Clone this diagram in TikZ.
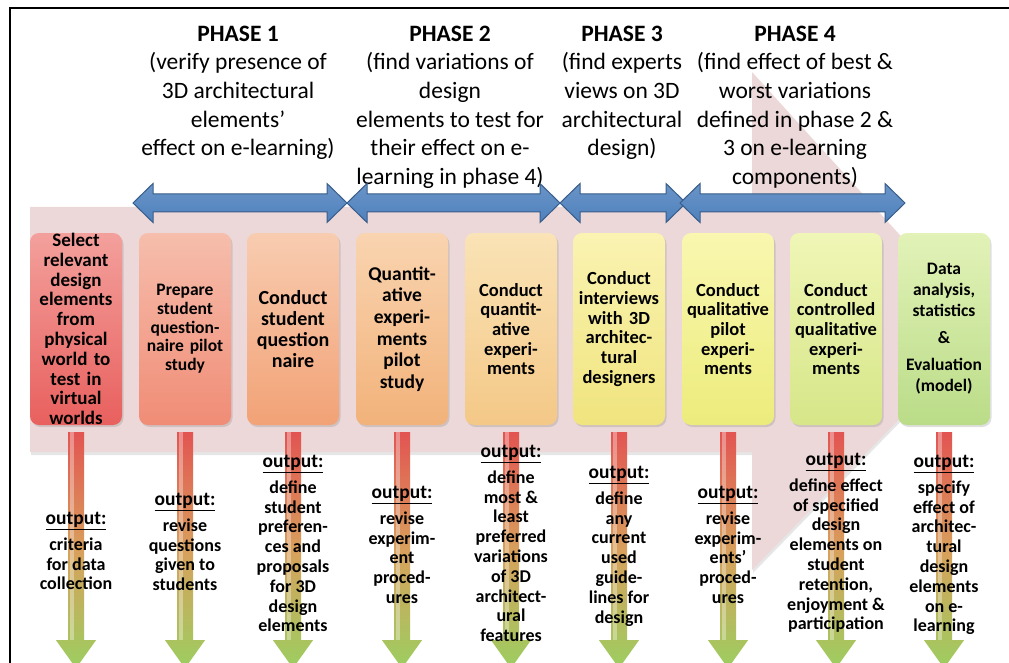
\documentclass[tikz,border=0pt]{standalone}
\usepackage{fontspec}
\setmainfont{Carlito}
\usetikzlibrary{positioning,shadows}
\definecolor{pinkbg}{RGB}{236,216,216}
\definecolor{phaseblue}{RGB}{79,129,189}
\definecolor{phaseline}{RGB}{56,93,138}
\definecolor{sAt}{RGB}{243,160,156}\definecolor{sAb}{RGB}{232,96,94}
\definecolor{sBt}{RGB}{246,190,172}\definecolor{sBb}{RGB}{240,140,118}
\definecolor{sCt}{RGB}{248,204,176}\definecolor{sCb}{RGB}{242,162,118}
\definecolor{sDt}{RGB}{249,212,176}\definecolor{sDb}{RGB}{242,178,122}
\definecolor{sEt}{RGB}{250,227,182}\definecolor{sEb}{RGB}{244,200,135}
\definecolor{sFt}{RGB}{250,243,178}\definecolor{sFb}{RGB}{240,228,126}
\definecolor{sGt}{RGB}{249,247,176}\definecolor{sGb}{RGB}{236,236,124}
\definecolor{sHt}{RGB}{240,246,182}\definecolor{sHb}{RGB}{214,230,136}
\definecolor{sIt}{RGB}{226,242,184}\definecolor{sIb}{RGB}{186,220,136}
\definecolor{outred}{RGB}{226,84,82}
\definecolor{outmid}{RGB}{216,160,92}
\definecolor{outgreen}{RGB}{156,206,96}
\newcommand{\phasearrow}[2]{%
	\path[phasearr] (#1,203) -- ({#1+20},183.5) -- ({#1+20},194) -- ({#2-20},194)
		-- ({#2-20},183.5) -- (#2,203) -- ({#2-20},222.5) -- ({#2-20},212)
		-- ({#1+20},212) -- ({#1+20},222.5) -- cycle;}
\newcommand{\outarrow}[1]{%
	\path[outarr, shift={(#1.south)}] (-8,7) -- (8,7) -- (8,215) -- (20,215)
		-- (0,243) -- (-20,215) -- (-8,215) -- cycle;
	\fill[white, fill opacity=0.35, shift={(#1.south)}] (-6,7) rectangle (-2,215);}
\newcommand{\boxfont}[2]{\bfseries\fontsize{#1}{#2}\selectfont}

\begin{document}
\begin{tikzpicture}[x=1pt,y=-1pt,
		phasetext/.style={align=center, inner sep=0pt, anchor=north, font=\fontsize{23.5}{28.7}\selectfont},
		phasearr/.style={draw=phaseline, line width=1pt, top color=phaseblue!85!white, bottom color=phaseblue},
		stage/.style={rounded corners=9pt, minimum width=92pt, minimum height=192pt, text width=92pt,
			inner sep=0pt, align=center, font=\boxfont{18.5}{19.7},
			drop shadow={opacity=0.25, shadow xshift=1.5pt, shadow yshift=-2pt}},
		outarr/.style={top color=outred, bottom color=outgreen, middle color=outmid},
		outtext/.style={align=center, inner sep=0pt, anchor=north, font=\boxfont{18}{19.8}},
		outhead/.style={font=\fontsize{19.5}{19.8}\selectfont}]
	\useasboundingbox (0,0) rectangle (1009,663);
	\draw[line width=2pt] (10,8) rectangle (1040,700);
	\path[fill=pinkbg, drop shadow={opacity=0.2, shadow xshift=1pt, shadow yshift=-3pt}]
		(30,207) -- (752,207) -- (752,72) -- (986,330) -- (752,570) -- (752,452) -- (30,452) -- cycle;

	\node[phasetext] (p1) at (238,25.5) {\textbf{PHASE 1}\\(verify presence of\\3D architectural\\elements’\\effect on e-learning)};
	\node[phasetext] (p2) at (450,25.5) {\textbf{PHASE 2}\\(find variations of\\design\\elements to test for\\their effect on e-\\learning in phase 4)};
	\node[phasetext] (p3) at (622,25.5) {\textbf{PHASE 3}\\(find experts\\views on 3D\\architectural\\design)};
	\node[phasetext] (p4) at (795,25.5) {\textbf{PHASE 4}\\(find effect of best \&\\worst variations\\defined in phase 2 \&\\3 on e-learning\\components)};

	\phasearrow{133}{347}
	\phasearrow{347}{560}
	\phasearrow{560}{686}
	\phasearrow{680}{905}

	\node[stage, font=\boxfont{19}{19.8}, top color=sAt, bottom color=sAb] (s1) at (76,329) {Select\\relevant\\design\\elements\\from\\physical\\world to\\test in\\virtual\\worlds};
	\node[stage, font=\boxfont{17.5}{18.7}, top color=sBt, bottom color=sBb] (s2) at (185,329) {Prepare\\student\\question-\\naire pilot\\study};
	\node[stage, font=\boxfont{20}{21}, top color=sCt, bottom color=sCb] (s3) at (293,329) {Conduct\\student\\question\\naire};
	\node[stage, font=\boxfont{19.5}{21.6}, top color=sDt, bottom color=sDb] (s4) at (402,329) {Quantit-\\ative\\experi-\\ments\\pilot\\study};
	\node[stage, top color=sEt, bottom color=sEb] (s5) at (511,329) {Conduct\\quantit-\\ative\\experi-\\ments};
	\node[stage, top color=sFt, bottom color=sFb] (s6) at (619,329) {Conduct\\interviews\\with 3D\\architec-\\tural\\designers};
	\node[stage, top color=sGt, bottom color=sGb] (s7) at (728,329) {Conduct\\qualitative\\pilot\\experi-\\ments};
	\node[stage, top color=sHt, bottom color=sHb] (s8) at (836,329) {Conduct\\controlled\\qualitative\\experi-\\ments};
	\node[stage, font=\boxfont{17.5}{21}, top color=sIt, bottom color=sIb] (s9) at (944,329) {Data\\analysis,\\statistics\\[6pt]\&\\[6pt]Evaluation\\(model)};

	\outarrow{s1}
	\outarrow{s2}
	\outarrow{s3}
	\outarrow{s4}
	\outarrow{s5}
	\outarrow{s6}
	\outarrow{s7}
	\outarrow{s8}
	\outarrow{s9}

	\node[outtext] (o1) at (76,512) {{\fontsize{19.5}{19.8}\selectfont\underline{output:}}\\[6pt]criteria\\for data\\collection};
	\node[outtext] (o2) at (185,493) {{\fontsize{19.5}{19.8}\selectfont\underline{output:}}\\[6pt]revise\\questions\\given to\\students};
	\node[outtext] (o3) at (293,455) {{\fontsize{19.5}{19.8}\selectfont\underline{output:}}\\[6pt]define\\student\\preferen-\\ces and\\proposals\\for 3D\\design\\elements};
	\node[outtext] (o4) at (402,486) {{\fontsize{19.5}{19.8}\selectfont\underline{output:}}\\[6pt]revise\\experim-\\ent\\proced-\\ures};
	\node[outtext] (o5) at (511,445) {{\fontsize{19.5}{19.8}\selectfont\underline{output:}}\\[6pt]define\\most \&\\least\\preferred\\variations\\of 3D\\architect-\\ural\\features};
	\node[outtext] (o6) at (619,466) {{\fontsize{19.5}{19.8}\selectfont\underline{output:}}\\[6pt]define\\any\\current\\used\\guide-\\lines for\\design};
	\node[outtext] (o7) at (728,486) {{\fontsize{19.5}{19.8}\selectfont\underline{output:}}\\[6pt]revise\\experim-\\ents'\\proced-\\ures};
	\node[outtext] (o8) at (836,453) {{\fontsize{19.5}{19.8}\selectfont\underline{output:}}\\[6pt]define effect\\of specified\\design\\elements on\\student\\retention,\\enjoyment \&\\participation};
	\node[outtext] (o9) at (944,455) {{\fontsize{19.5}{19.8}\selectfont\underline{output:}}\\[6pt]specify\\effect of\\architec-\\tural\\design\\elements\\on e-\\learning};
\end{tikzpicture}
\end{document}
